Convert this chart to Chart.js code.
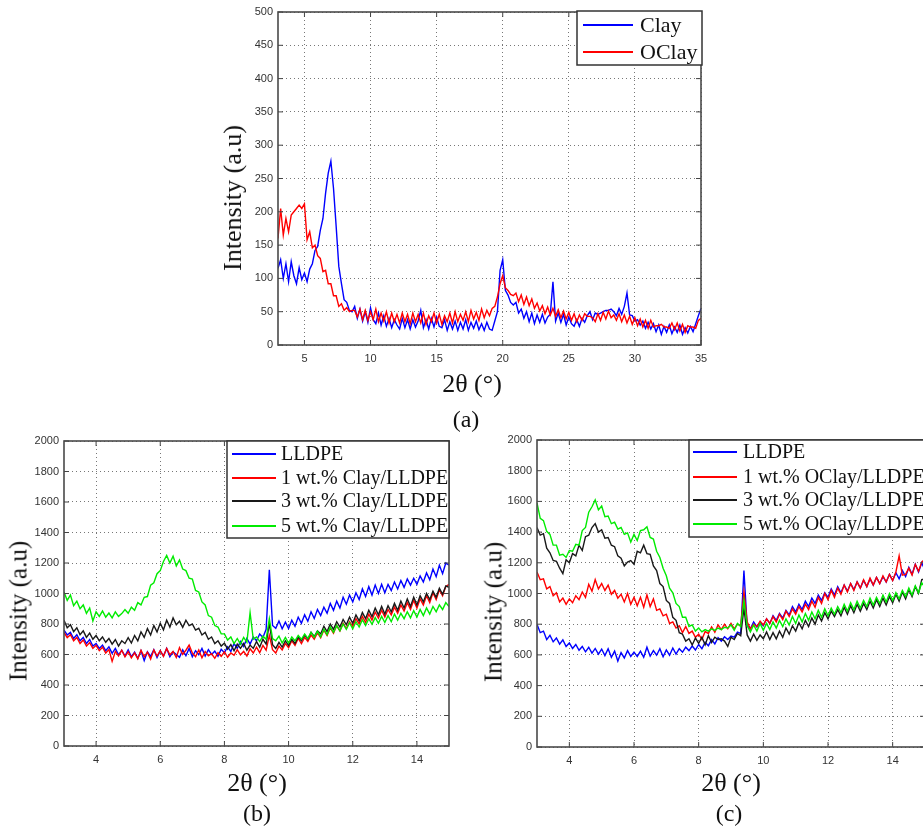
<!DOCTYPE html>
<html>
<head>
<meta charset="utf-8">
<script src="https://cdn.jsdelivr.net/npm/chart.js@4.4.1/dist/chart.umd.min.js"></script>
<style>
  html, body { margin: 0; padding: 0; background: #fff; overflow: hidden; }
  body { width: 923px; height: 826px; position: relative; }
  canvas { position: absolute; }
  .lbl { position: absolute; font-family: "Liberation Serif", "Times New Roman", serif; color: #111;
         line-height: 1; white-space: nowrap; transform: translate(-50%, -50%); }
  .rot { transform: translate(-50%, -50%) rotate(-90deg); }
</style>
</head>
<body>
<canvas id="chart-a" width="520" height="400" style="left:200px;top:0px"></canvas>
<canvas id="chart-b" width="460" height="401" style="left:0px;top:425px"></canvas>
<canvas id="chart-c" width="445" height="401" style="left:480px;top:425px"></canvas>

<div class="lbl rot" style="left:233px;top:198px;font-size:26px">Intensity (a.u)</div>
<div class="lbl" style="left:472px;top:384px;font-size:26px">2θ (°)</div>
<div class="lbl" style="left:466px;top:419px;font-size:24px">(a)</div>

<div class="lbl rot" style="left:18px;top:611px;font-size:25px">Intensity (a.u)</div>
<div class="lbl" style="left:257px;top:783px;font-size:26px">2θ (°)</div>
<div class="lbl" style="left:257px;top:813px;font-size:24px">(b)</div>

<div class="lbl rot" style="left:493px;top:612px;font-size:25px">Intensity (a.u)</div>
<div class="lbl" style="left:731px;top:783px;font-size:26px">2θ (°)</div>
<div class="lbl" style="left:729px;top:813px;font-size:24px">(c)</div>

<script>
// ---- (a) Clay / OClay ----
const xA = [
  3,3.2,3.4,3.6,3.8,4,4.2,4.4,4.6,4.8,
  5,5.2,5.4,5.6,5.8,6,6.2,6.4,6.6,6.8,
  7,7.2,7.4,7.6,7.8,8,8.2,8.4,8.6,8.8,
  9,9.2,9.4,9.6,9.8,10,10.2,10.4,10.6,10.8,
  11,11.2,11.4,11.6,11.8,12,12.2,12.4,12.6,12.8,
  13,13.2,13.4,13.6,13.8,14,14.2,14.4,14.6,14.8,
  15,15.2,15.4,15.6,15.8,16,16.2,16.4,16.6,16.8,
  17,17.2,17.4,17.6,17.8,18,18.2,18.4,18.6,18.8,
  19,19.2,19.4,19.6,19.8,20,20.2,20.4,20.6,20.8,
  21,21.2,21.4,21.6,21.8,22,22.2,22.4,22.6,22.8,
  23,23.2,23.4,23.6,23.8,24,24.2,24.4,24.6,24.8,
  25,25.2,25.4,25.6,25.8,26,26.2,26.4,26.6,26.8,
  27,27.2,27.4,27.6,27.8,28,28.2,28.4,28.6,28.8,
  29,29.2,29.4,29.6,29.8,30,30.2,30.4,30.6,30.8,
  31,31.2,31.4,31.6,31.8,32,32.2,32.4,32.6,32.8,
  33,33.2,33.4,33.6,33.8,34,34.2,34.4,34.6,34.8,
  35
];
const clay = [
  115,128,100,122,95,125,104,92,116,98,
  108,95,114,122,142,148,172,190,228,258,
  276,235,178,118,92,68,64,52,50,58,
  40,54,36,50,34,56,38,32,48,30,
  44,28,40,26,38,30,24,40,26,38,
  24,38,27,36,52,26,38,24,40,27,
  42,28,26,38,22,35,24,36,22,34,
  24,38,22,34,25,36,23,32,22,34,
  24,22,36,50,112,128,82,75,64,60,
  64,48,54,40,50,35,48,32,45,34,
  46,33,42,46,95,36,48,34,46,30,
  42,32,28,38,28,40,34,44,50,38,
  48,46,48,50,52,52,54,50,44,55,
  46,58,78,45,44,36,38,30,36,25,
  34,24,32,20,30,16,28,19,30,17,
  27,19,30,16,26,18,28,20,32,44,
  55
];
const oclay = [
  160,205,165,190,170,195,200,205,210,205,
  212,158,170,146,150,134,130,110,112,92,
  92,74,74,58,62,52,56,50,52,52,
  42,54,38,52,37,50,38,54,35,48,
  36,50,33,48,35,46,33,48,35,46,
  32,48,35,46,33,48,31,44,35,48,
  33,46,31,44,35,48,33,50,35,46,
  37,50,35,52,39,49,37,54,41,52,
  44,55,58,72,92,104,86,82,76,74,
  78,65,75,61,72,59,69,55,63,51,
  59,47,57,45,55,43,53,41,51,39,
  49,37,47,35,45,37,47,43,43,41,
  35,47,37,49,39,51,41,45,37,47,
  35,45,33,43,31,41,29,39,27,37,
  25,37,27,29,29,31,27,27,25,33,
  23,33,21,31,19,29,27,27,25,37,
  40
];
const xTicksA = [5,10,15,20,25,30,35];
const yTicksA = [0,50,100,150,200,250,300,350,400,450,500];

// ---- (b) and (c) share the 2θ grid ----
const xB = [
  3,3.1,3.2,3.3,3.4,3.5,3.6,3.7,3.8,3.9,
  4,4.1,4.2,4.3,4.4,4.5,4.6,4.7,4.8,4.9,
  5,5.1,5.2,5.3,5.4,5.5,5.6,5.7,5.8,5.9,
  6,6.1,6.2,6.3,6.4,6.5,6.6,6.7,6.8,6.9,
  7,7.1,7.2,7.3,7.4,7.5,7.6,7.7,7.8,7.9,
  8,8.1,8.2,8.3,8.4,8.5,8.6,8.7,8.8,8.9,
  9,9.1,9.2,9.3,9.4,9.5,9.6,9.7,9.8,9.9,
  10,10.1,10.2,10.3,10.4,10.5,10.6,10.7,10.8,10.9,
  11,11.1,11.2,11.3,11.4,11.5,11.6,11.7,11.8,11.9,
  12,12.1,12.2,12.3,12.4,12.5,12.6,12.7,12.8,12.9,
  13,13.1,13.2,13.3,13.4,13.5,13.6,13.7,13.8,13.9,
  14,14.1,14.2,14.3,14.4,14.5,14.6,14.7,14.8,14.9,
  15
];
const xTicksB = [4,6,8,10,12,14];
const yTicksB = [0,200,400,600,800,1000,1200,1400,1600,1800,2000];

const lldpeB = [
  760,728,745,705,730,690,712,672,698,655,
  672,640,662,625,650,608,640,598,628,590,
  630,585,615,575,625,560,618,588,632,580,
  625,590,640,585,618,600,582,630,592,640,
  585,625,598,640,590,632,600,622,588,635,
  612,650,620,672,640,685,652,705,668,715,
  690,735,712,765,1155,790,772,820,768,812,
  770,825,785,845,805,860,818,880,836,895,
  855,910,870,935,890,950,905,975,930,990,
  945,1005,960,1030,980,1045,990,1055,1000,1060,
  1005,1060,1020,1075,1030,1085,1040,1095,1055,1100,
  1060,1115,1075,1135,1090,1160,1110,1185,1130,1200,
  1185
];
const clay1 = [
  745,710,730,690,712,672,695,655,678,640,
  660,625,648,610,632,555,620,590,628,585,
  618,578,610,572,628,585,615,570,630,590,
  625,588,640,598,620,580,645,600,628,662,
  610,585,630,578,620,592,605,575,612,588,
  618,582,610,595,632,598,620,590,638,610,
  648,612,660,628,725,632,610,655,630,672,
  645,690,660,705,672,712,685,728,700,742,
  710,760,725,775,740,790,755,805,770,815,
  785,835,800,850,810,865,825,878,838,890,
  845,895,860,910,870,925,885,940,895,955,
  905,965,925,985,940,1005,960,1025,985,1045,
  1060
];
const clay3 = [
  825,775,795,750,775,730,755,712,740,700,
  725,690,715,680,705,668,698,655,690,672,
  710,675,725,690,748,712,770,728,790,748,
  805,762,825,780,840,795,818,778,825,790,
  800,760,772,728,745,700,715,672,690,655,
  675,635,665,625,668,640,672,628,662,640,
  685,648,700,668,805,665,640,680,648,690,
  660,700,672,715,690,728,700,745,718,755,
  735,785,750,800,765,815,780,830,795,845,
  805,860,820,875,835,890,848,905,860,915,
  865,920,880,935,890,950,905,965,915,975,
  925,985,945,1000,960,1015,975,1035,995,1050,
  1040
];
const clay5 = [
  1010,955,990,920,950,900,925,870,905,820,
  880,850,885,845,872,840,880,850,868,895,
  870,910,890,940,925,975,980,1055,1070,1130,
  1150,1210,1250,1200,1245,1180,1220,1160,1150,1100,
  1095,1020,1010,945,925,855,845,790,780,735,
  735,695,715,672,705,668,712,680,875,700,
  715,685,720,700,835,705,690,720,675,712,
  675,715,690,725,700,735,705,745,712,752,
  715,765,730,780,745,790,755,800,765,808,
  768,815,780,828,790,835,798,842,805,850,
  810,855,815,865,825,870,835,880,840,888,
  845,895,855,905,865,915,880,925,895,940,
  915
];

const lldpeC = [
  800,745,755,700,728,685,710,670,698,655,
  678,642,668,630,655,620,650,612,642,605,
  638,595,640,585,625,560,615,580,628,590,
  618,590,625,585,650,592,628,598,640,588,
  632,598,645,605,640,618,650,628,658,632,
  668,640,682,660,700,672,712,690,718,700,
  722,715,748,740,1150,790,770,815,782,812,
  790,835,805,855,825,870,840,890,860,915,
  880,930,895,950,915,970,935,990,955,1005,
  975,1030,990,1045,1005,1055,1015,1065,1025,1075,
  1035,1085,1045,1095,1055,1105,1065,1110,1075,1125,
  1085,1135,1095,1150,1110,1170,1125,1190,1140,1200,
  1150
];
const oclay1 = [
  1140,1090,1095,1030,1045,985,1005,945,970,930,
  965,940,985,960,1010,975,1060,1015,1090,1030,
  1065,1020,1055,995,1020,970,995,945,1000,930,
  975,920,975,910,990,915,965,890,900,855,
  865,805,815,775,790,745,785,740,755,715,
  735,700,752,740,782,748,795,765,800,770,
  805,770,800,790,1010,815,770,800,785,820,
  795,835,805,850,815,865,830,885,850,900,
  865,915,880,930,895,950,910,975,935,1000,
  960,1020,975,1035,995,1055,1010,1065,1020,1075,
  1035,1090,1045,1100,1055,1105,1065,1115,1075,1125,
  1085,1140,1245,1120,1125,1165,1120,1190,1145,1205,
  1225
];
const oclay3 = [
  1430,1380,1390,1295,1265,1215,1210,1165,1130,1220,
  1200,1260,1245,1315,1280,1370,1380,1430,1455,1400,
  1415,1360,1365,1315,1305,1245,1230,1180,1205,1215,
  1190,1275,1265,1315,1260,1255,1180,1150,1065,1045,
  955,935,845,825,745,735,690,705,665,710,
  675,715,665,725,680,715,700,705,690,655,
  715,700,740,725,905,730,690,735,695,730,
  705,750,700,745,705,755,715,775,735,790,
  755,810,770,825,785,840,800,860,820,875,
  835,885,850,895,855,910,865,920,875,930,
  885,935,895,950,905,960,915,970,925,980,
  940,995,950,1010,965,1025,980,1045,1000,1090,
  1095
];
const oclay5 = [
  1590,1490,1475,1405,1385,1315,1315,1250,1255,1235,
  1280,1275,1320,1315,1410,1430,1530,1565,1610,1545,
  1570,1500,1505,1455,1465,1420,1430,1385,1395,1335,
  1385,1345,1410,1415,1435,1365,1355,1275,1235,1165,
  1115,1035,1005,935,915,845,845,785,795,755,
  775,750,765,755,770,760,775,765,780,775,
  795,760,805,785,955,790,750,795,755,805,
  760,805,765,815,775,825,785,835,795,850,
  805,860,815,870,825,880,835,890,845,900,
  855,905,865,915,875,930,885,940,895,950,
  905,955,915,970,925,975,935,990,945,1000,
  955,1005,965,1020,980,1035,990,1050,1005,1070,
  1040
];

const BLUE = 'rgb(0,0,255)', RED = 'rgb(255,0,0)', BLACK = 'rgb(25,25,25)', GREEN = 'rgb(0,235,0)';

Chart.defaults.font.family = '"Liberation Sans", Arial, sans-serif';
Chart.defaults.font.size = 11;
Chart.defaults.color = '#333';

function pts(xs, ys) {
  return xs.map(function(x, i) { return {x: x, y: ys[i]}; });
}

function line(label, xs, ys, color, order) {
  return {
    label: label,
    data: pts(xs, ys),
    borderColor: color,
    backgroundColor: color,
    borderWidth: 1.4,
    pointRadius: 0,
    tension: 0,
    order: order
  };
}

// box around the plot plus matlab-style inner ticks
const framePlugin = {
  id: 'frame',
  afterDatasetsDraw(chart) {
    const ctx = chart.ctx, a = chart.chartArea, sx = chart.scales.x, sy = chart.scales.y;
    ctx.save();
    ctx.strokeStyle = '#444';
    ctx.lineWidth = 1;
    ctx.beginPath();
    sx.ticks.forEach(function(t) {
      const p = sx.getPixelForValue(t.value);
      ctx.moveTo(p, a.bottom); ctx.lineTo(p, a.bottom - 5);
      ctx.moveTo(p, a.top); ctx.lineTo(p, a.top + 5);
    });
    sy.ticks.forEach(function(t) {
      const p = sy.getPixelForValue(t.value);
      ctx.moveTo(a.left, p); ctx.lineTo(a.left + 5, p);
      ctx.moveTo(a.right, p); ctx.lineTo(a.right - 5, p);
    });
    ctx.stroke();
    ctx.lineWidth = 1.6;
    ctx.strokeStyle = '#4a4a4a';
    ctx.strokeRect(a.left, a.top, a.right - a.left, a.bottom - a.top);
    ctx.restore();
  }
};

// legend drawn as a framed box inside the plot
const boxLegend = {
  id: 'boxLegend',
  afterDraw(chart, args, o) {
    const ctx = chart.ctx;
    ctx.save();
    ctx.fillStyle = '#fff';
    ctx.fillRect(o.left, o.top, o.width, o.height);
    ctx.strokeStyle = '#333';
    ctx.lineWidth = 1.5;
    ctx.strokeRect(o.left, o.top, o.width, o.height);
    ctx.font = o.size + 'px "Liberation Serif", "Times New Roman", serif';
    ctx.textBaseline = 'middle';
    ctx.textAlign = 'left';
    chart.data.datasets.forEach(function(ds, i) {
      const y = o.top + o.rows[i];
      ctx.strokeStyle = ds.borderColor;
      ctx.lineWidth = 2;
      ctx.beginPath();
      ctx.moveTo(o.left + o.s0, y);
      ctx.lineTo(o.left + o.s1, y);
      ctx.stroke();
      ctx.fillStyle = '#111';
      ctx.fillText(ds.label, o.left + o.tx, y + 1);
    });
    ctx.restore();
  }
};

function plain(v) { return String(v); }

function makeChart(id, datasets, xmin, xmax, ymax, xTicks, yTicks, yWidth, pad, legend) {
  return new Chart(document.getElementById(id), {
    type: 'line',
    data: { datasets: datasets },
    plugins: [framePlugin, boxLegend],
    options: {
      responsive: false,
      animation: false,
      devicePixelRatio: 1,
      layout: { padding: pad },
      plugins: {
        legend: { display: false },
        tooltip: { enabled: false },
        boxLegend: legend
      },
      scales: {
        x: {
          type: 'linear',
          min: xmin, max: xmax,
          afterBuildTicks: function(s) { s.ticks = xTicks.map(function(v) { return {value: v}; }); },
          afterFit: function(s) { s.height = 55; },
          grid: { color: '#777', lineWidth: 1, drawTicks: false },
          border: { display: false, dash: [1, 3] },
          ticks: { padding: 7, maxRotation: 0, autoSkip: false, callback: plain }
        },
        y: {
          min: 0, max: ymax,
          afterBuildTicks: function(s) { s.ticks = yTicks.map(function(v) { return {value: v}; }); },
          afterFit: function(s) { s.width = yWidth; },
          grid: { color: '#777', lineWidth: 1, drawTicks: false },
          border: { display: false, dash: [1, 3] },
          ticks: { padding: 5, autoSkip: false, callback: plain }
        }
      }
    }
  });
}

makeChart('chart-a', [
  line('Clay', xA, clay, BLUE, 2),
  line('OClay', xA, oclay, RED, 1)
], 3, 35, 500, xTicksA, yTicksA, 78,
  { left: 0, right: 19, top: 12, bottom: 0 },
  { left: 377, top: 11, width: 125, height: 54, rows: [14, 41], s0: 6, s1: 56, tx: 63, size: 22 });

makeChart('chart-b', [
  line('LLDPE', xB, lldpeB, BLUE, 4),
  line('1 wt.% Clay/LLDPE', xB, clay1, RED, 3),
  line('3 wt.% Clay/LLDPE', xB, clay3, BLACK, 2),
  line('5 wt.% Clay/LLDPE', xB, clay5, GREEN, 1)
], 3, 15, 2000, xTicksB, yTicksB, 64,
  { left: 0, right: 11, top: 16, bottom: 25 },
  { left: 227, top: 16, width: 222, height: 97, rows: [13, 37, 60, 85], s0: 5, s1: 49, tx: 54, size: 20 });

makeChart('chart-c', [
  line('LLDPE', xB, lldpeC, BLUE, 4),
  line('1 wt.% OClay/LLDPE', xB, oclay1, RED, 3),
  line('3 wt.% OClay/LLDPE', xB, oclay3, BLACK, 2),
  line('5 wt.% OClay/LLDPE', xB, oclay5, GREEN, 1)
], 3, 15, 2000, xTicksB, yTicksB, 57,
  { left: 0, right: 0, top: 15, bottom: 24 },
  { left: 209, top: 15, width: 245, height: 97, rows: [12, 37, 60, 84], s0: 4, s1: 48, tx: 54, size: 20 });
</script>
</body>
</html>
